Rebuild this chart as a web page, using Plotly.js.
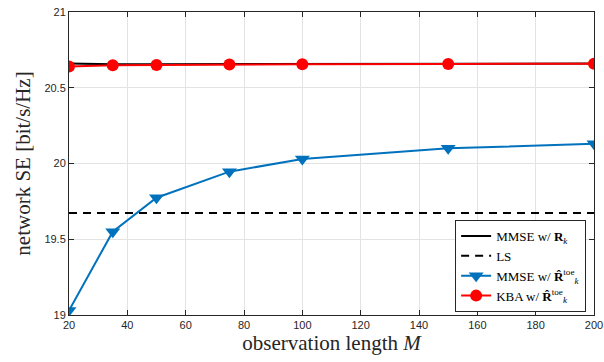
<!DOCTYPE html>
<html><head><meta charset="utf-8">
<script src="https://cdn.plot.ly/plotly-3.0.1.min.js"></script>
<style>html,body{margin:0;padding:0;background:#fff}#plot{width:604px;height:362px}</style>
</head><body><div id="plot"></div>
<script>
const M = [20, 35, 50, 75, 100, 150, 200];
const mmseTrue = [20.66, 20.655, 20.655, 20.656, 20.657, 20.658, 20.66];
const lsValue = 19.673;
const lsX = [20, 200];
const mmseToe = [19.03, 19.55, 19.774, 19.946, 20.03, 20.10, 20.13];
const kbaToe = [20.64, 20.648, 20.65, 20.653, 20.655, 20.657, 20.659];
const xTicks = [20, 40, 60, 80, 100, 120, 140, 160, 180, 200];
const yTicks = [19, 19.5, 20, 20.5, 21];
const yTickText = ['19', '19.5', '20', '20.5', '21'];
const names = ['MMSE w/ <b>R</b><sub><i>k</i></sub>', 'LS',
  'MMSE w/ <b>R̂</b><sup>toe</sup><sub><i>k</i></sub>', 'KBA w/ <b>R̂</b><sup>toe</sup><sub><i>k</i></sub>'];

const traces = [
  {x: M, y: mmseTrue, name: names[0], mode: 'lines', line: {color: '#000', width: 2}},
  {x: lsX, y: lsX.map(() => lsValue), name: names[1], mode: 'lines', line: {color: '#000', width: 2, dash: '8px,6px'}},
  {x: M, y: mmseToe, name: names[2], mode: 'lines+markers', line: {color: '#0072BD', width: 2},
   marker: {symbol: 'triangle-down', size: 13, color: '#0072BD'}},
  {x: M, y: kbaToe, name: names[3], mode: 'lines+markers', line: {color: '#FF0000', width: 2},
   marker: {symbol: 'circle', size: 12, color: '#FF0000'}}
];
const axisCommon = {showline: true, linecolor: '#262626', linewidth: 1, mirror: 'ticks', ticks: 'inside',
  ticklen: 5, tickcolor: '#262626', showgrid: true, gridcolor: '#e3e3e3', gridwidth: 1, zeroline: false,
  tickfont: {family: 'Liberation Sans, Arial, sans-serif', size: 11, color: '#262626'}};
const layout = {
  width: 604, height: 362,
  margin: {l: 69, r: 10, t: 12, b: 47},
  paper_bgcolor: '#fff', plot_bgcolor: '#fff',
  showlegend: true,
  legend: {x: 0.985, y: 0.01, xanchor: 'right', yanchor: 'bottom', bgcolor: '#fff',
    bordercolor: '#262626', borderwidth: 1, tracegroupgap: 0,
    font: {family: 'Liberation Serif, serif', size: 13, color: '#000'}},
  xaxis: Object.assign({}, axisCommon, {range: [20, 200], tickvals: xTicks,
    title: {text: 'observation length <i>M</i>', font: {family: 'Liberation Serif, serif', size: 21, color: '#262626'}, standoff: 4}}),
  yaxis: Object.assign({}, axisCommon, {range: [19, 21], tickvals: yTicks, ticktext: yTickText,
    title: {text: 'network SE [bit/s/Hz]', font: {family: 'Liberation Serif, serif', size: 21, color: '#262626'}, standoff: 8}})
};
Plotly.newPlot('plot', traces, layout, {displayModeBar: false, staticPlot: true});
</script></body></html>
